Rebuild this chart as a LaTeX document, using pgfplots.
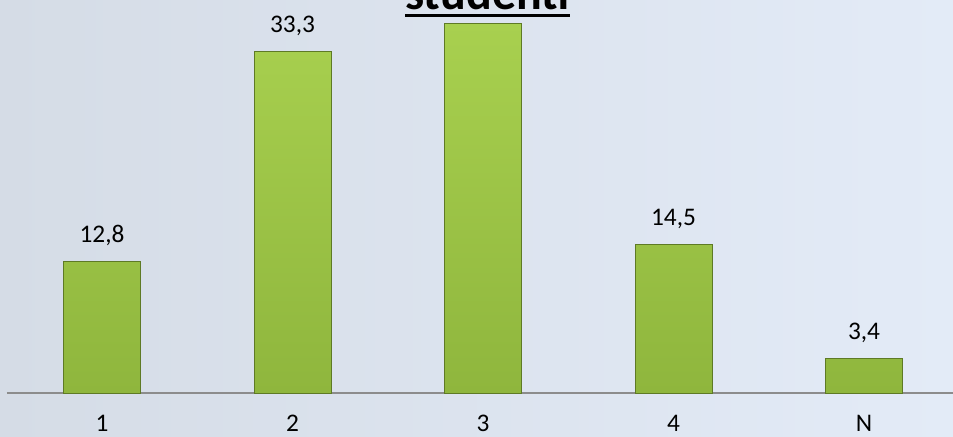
\documentclass[border=0pt]{standalone}
\usepackage{pgfplots}
\pgfplotsset{compat=1.18}
\usepackage{fontspec}
\setmainfont{Carlito}
\definecolor{bgL}{HTML}{D5DCE6}
\definecolor{bgR}{HTML}{E3EBF7}
\definecolor{barT}{HTML}{A8D04F}
\definecolor{barB}{HTML}{8FB63D}
\definecolor{barE}{HTML}{5E7A25}
\definecolor{axg}{HTML}{8C8C8C}
\begin{document}
\begin{tikzpicture}
\path[use as bounding box] (0,0) rectangle (714.75pt,327pt);
\clip (0,0) rectangle (714.75pt,327pt);
\fill[left color=bgL, right color=bgR] (0,0) rectangle (714.75pt,327pt);
\begin{axis}[
  at={(5.0625pt,32.25pt)}, anchor=south west,
  scale only axis, width=714.375pt, height=294.75pt,
  xmin=-0.5, xmax=4.5, ymin=0, ymax=38.27,
  axis x line=bottom, axis y line=none,
  axis line style={-, draw=axg, line width=1.1pt},
  xtick={0,1,2,3,4}, xticklabels={1,2,3,4,N},
  major tick length=0pt,
  xticklabel style={font=\fontsize{19}{22}\selectfont, anchor=base, yshift=-28.5pt},
  ytick=\empty,
  clip=false,
]
\addplot[ybar, bar width=57.75pt, bar shift=0pt,
  draw=barE, line width=0.5pt, top color=barT, bottom color=barB,
  point meta=explicit symbolic,
  nodes near coords,
  every node near coord/.append style={font=\fontsize{19}{22}\selectfont, anchor=base, yshift=14.25pt, text=black},
] coordinates {(0,12.8) [12,8] (1,33.3) [33,3] (2,36.0) [] (3,14.5) [14,5] (4,3.4) [3,4]};
\end{axis}
\node[anchor=base, font=\fontsize{36}{40}\selectfont\bfseries, inner sep=0pt] (t) at (365.6pt,319.5pt) {studenti};
\draw[line width=2.25pt] (t.base west)++(0,-4.1pt) -- ([yshift=-4.1pt]t.base east);
\end{tikzpicture}
\end{document}
